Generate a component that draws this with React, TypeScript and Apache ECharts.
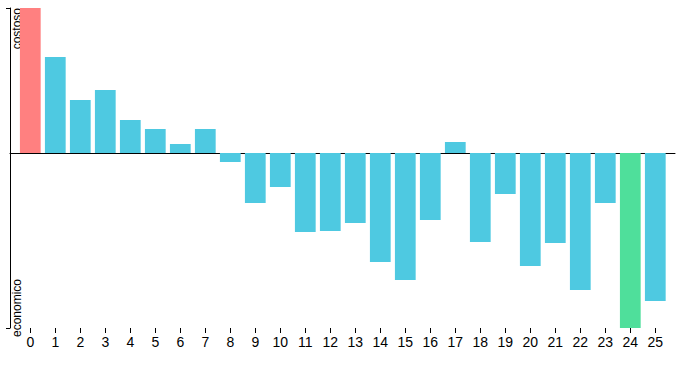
import React, { useEffect, useRef } from "react";
import * as echarts from "echarts";

const categories = ["0","1","2","3","4","5","6","7","8","9","10","11","12","13","14","15","16","17","18","19","20","21","22","23","24","25"];
const values = [145, 96, 53, 63, 33, 24, 9, 24, -9, -50, -34, -79, -78, -70, -109, -127, -67, 11, -89, -41, -113, -90, -137, -50, -175, -148];
const highIndex = 0;
const lowIndex = 24;
const yMin = -175;
const yMax = 145;
const topLabel = "costoso";
const bottomLabel = "economico";

const BLUE = "#4ec9e1";
const RED = "#ff8080";
const GREEN = "#4fdf9b";

export default function App() {
  const ref = useRef<HTMLDivElement>(null);
  useEffect(() => {
    if (!ref.current) return;
    const chart = echarts.init(ref.current, null, { renderer: "svg" });
    const data = values.map((v, i) => ({
      value: v,
      itemStyle: { color: i === highIndex ? RED : i === lowIndex ? GREEN : BLUE },
    }));
    chart.setOption({
      animation: false,
      grid: [
        { left: 17.8, right: 12.2, top: 8, bottom: 41 },
        { left: 10, right: 5, top: 8, bottom: 41 },
      ],
      xAxis: [
        {
          type: "category",
          gridIndex: 0,
          data: categories,
          position: "bottom",
          axisLine: { show: false, onZero: false },
          axisTick: { show: true, alignWithLabel: true, length: 5, lineStyle: { color: "#000" } },
          axisLabel: { color: "#000", fontSize: 14, margin: 7, fontFamily: "Liberation Sans, Arial, sans-serif", interval: 0 },
          splitLine: { show: false },
        },
        {
          type: "value",
          gridIndex: 1,
          min: 0,
          max: 1,
          axisLine: { show: true, onZero: true, lineStyle: { color: "#000", width: 1 } },
          axisTick: { show: false },
          axisLabel: { show: false },
          splitLine: { show: false },
        },
      ],
      yAxis: [
        {
          type: "value",
          gridIndex: 0,
          min: yMin,
          max: yMax,
          show: false,
          splitLine: { show: false },
        },
        {
          type: "value",
          gridIndex: 1,
          min: yMin,
          max: yMax,
          interval: yMax - yMin,
          axisLine: { show: true, lineStyle: { color: "#000", width: 1 } },
          axisTick: { show: true, length: 4, lineStyle: { color: "#000" } },
          axisLabel: { show: false },
          splitLine: { show: false },
        },
      ],
      graphic: [
        {
          type: "text",
          x: 16.5,
          y: 8,
          rotation: Math.PI / 2,
          style: {
            text: topLabel,
            fontSize: 12,
            fontFamily: "Liberation Sans, Arial, sans-serif",
            fill: "#000",
            align: "right",
            verticalAlign: "middle",
          },
        },
        {
          type: "text",
          x: 16.5,
          y: 337,
          rotation: Math.PI / 2,
          style: {
            text: bottomLabel,
            fontSize: 12,
            fontFamily: "Liberation Sans, Arial, sans-serif",
            fill: "#000",
            align: "left",
            verticalAlign: "middle",
          },
        },
      ],
      series: [
        {
          type: "bar",
          xAxisIndex: 0,
          yAxisIndex: 0,
          data,
          barCategoryGap: "17%",
        },
      ],
    });
    return () => chart.dispose();
  }, []);
  return <div ref={ref} style={{ width: 680, height: 369, position: "absolute", left: 0, top: 0 }} />;
}
